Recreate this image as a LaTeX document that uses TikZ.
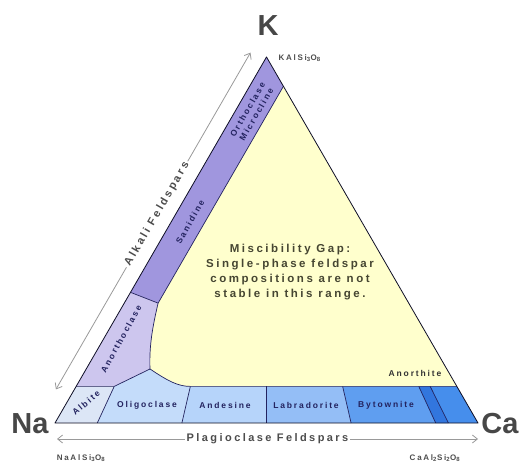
\documentclass[tikz,border=0pt]{standalone}
\usepackage{fontspec}
\setmainfont{Liberation Sans}
\newfontfamily\spaced{Liberation Sans}[LetterSpace=22]
\usetikzlibrary{arrows.meta,calc}
\definecolor{ink}{RGB}{35,35,95}
\definecolor{gapcol}{RGB}{255,255,205}
\definecolor{san}{RGB}{160,150,222}
\definecolor{ano}{RGB}{205,198,238}
\definecolor{alb}{RGB}{220,230,246}
\definecolor{oli}{RGB}{196,220,250}
\definecolor{ande}{RGB}{182,212,250}
\definecolor{lab}{RGB}{148,190,246}
\definecolor{byt}{RGB}{95,158,240}
\definecolor{anstrip}{RGB}{50,118,222}
\definecolor{anor}{RGB}{70,142,236}
\definecolor{notecol}{RGB}{70,70,50}
\newcommand{\naf}{NaAlSi\textsubscript{3}O\textsubscript{8}}
\newcommand{\kf}{KAlSi\textsubscript{3}O\textsubscript{8}}
\newcommand{\caf}{CaAl\textsubscript{2}Si\textsubscript{2}O\textsubscript{8}}
\tikzset{
  edge/.style={draw=ink, line width=0.7pt},
  rim/.style={draw=black!60!ink, line width=0.8pt, line join=round},
  zone/.style={font=\spaced\bfseries\fontsize{8.5}{10}\selectfont, text=ink, inner sep=1pt},
  note/.style={font=\spaced\bfseries\fontsize{11.5}{15}\selectfont, text=notecol, align=center},
  axis/.style={font=\spaced\bfseries\fontsize{11}{13}\selectfont, text=black!70, fill=white, inner sep=2pt},
  corner/.style={font=\bfseries\fontsize{29}{30}\selectfont, text=black!72},
  formula/.style={font=\spaced\bfseries\fontsize{8}{9}\selectfont, text=black!70},
  arr/.style={draw=black!40, line width=0.8pt, {Straight Barb[length=5pt,width=8pt]}-{Straight Barb[length=5pt,width=8pt]}}
}
\begin{document}
\begin{tikzpicture}[x=1pt,y=-1pt]
\useasboundingbox (0,0) rectangle (523,468);
\coordinate (Na) at (55,423);
\coordinate (Ca) at (478,423);
\coordinate (K) at (266.5,57);
\foreach \a/\n in {0/0,0.1/10,0.3/30,0.5/50,0.7/70,0.9/90,0.93/93,1/100}{
  \coordinate (b\n) at ($(Na)!\a!(Ca)$);
  \coordinate (t\n) at ($(K)!0.9!(b\n)$);
}
\coordinate (ktop) at ($(K)!0.08!(Ca)$);
\coordinate (kbot) at ($(Na)!0.08!(Ca)$);
\coordinate (sl) at ($(Na)!0.357!(K)$);
\coordinate (sr) at ($(kbot)!0.356!(ktop)$);
\coordinate (J) at (150,369);

\fill[gapcol] (Na) -- (K) -- (Ca) -- cycle;
\fill[san] (K) -- (ktop) -- (sr) -- (sl) -- cycle;
\fill[ano] (sl) -- (sr) .. controls (153,325) and (149,345) .. (J) -- (t10) -- (t0) -- cycle;
\fill[alb] (t0) -- (t10) -- (b10) -- (Na) -- cycle;
\fill[oli] (t10) -- (J) .. controls (168,381) and (178,386.4) .. (t30) -- (b30) -- (b10) -- cycle;
\fill[ande] (t30) -- (t50) -- (b50) -- (b30) -- cycle;
\fill[lab] (t50) -- (t70) -- (b70) -- (b50) -- cycle;
\fill[byt] (t70) -- (t90) -- (b90) -- (b70) -- cycle;
\fill[anor] (t90) -- (t100) -- (Ca) -- (b90) -- cycle;
\fill[anstrip] (t90) -- (t93) -- (b93) -- (b90) -- cycle;

\draw[edge] (ktop) -- (sr) .. controls (153,325) and (149,345) .. (J)
  .. controls (168,381) and (178,386.4) .. (t30) -- (t100);
\draw[edge] (sl) -- (sr);
\draw[edge] (t0) -- (t10) -- (J);
\foreach \n in {10,30,50,70,90,93} \draw[edge] (t\n) -- (b\n);
\draw[rim] (Na) -- (K) -- (Ca) -- cycle;

\node[zone, rotate=40] (albl) at (86,403) {Albite};
\node[zone] (olil) at (147,405) {Oligoclase};
\node[zone] (andl) at (225,405) {Andesine};
\node[zone] (labl) at (306,405) {Labradorite};
\node[zone] (bytl) at (386,405) {Bytownite};
\node[zone, text=black!80] (anol) at (415,373) {Anorthite};
\node[zone, rotate=61] (acl) at (121,339) {Anorthoclase};
\node[zone, rotate=60] (sanl) at (190,222) {Sanidine};
\node[zone, rotate=60, align=center] (orl) at (252,112) {Orthoclase\\Microcline};
\node[note] (gap) at (290,272) {Miscibility Gap:\\Single-phase feldspar\\compositions are not\\stable in this range.};

\node[corner] (kl) at (268,26) {K};
\node[corner] (nal) at (30,424) {Na};
\node[corner] (cal) at (500,424) {Ca};
\node[formula, anchor=west] (kfl) at (275,58) {\kf};
\node[formula] (nafl) at (81,458) {\naf};
\node[formula] (cafl) at (435,458) {\caf};

\coordinate (pa) at (57,439);
\coordinate (pb) at (478,439);
\draw[arr] (pa) -- node[axis] (plag) {Plagioclase Feldspars} (pb);
\coordinate (aa) at ($(Na)!0.07!(K)+(-13.9,-8)$);
\coordinate (ab) at ($(Na)!0.99!(K)+(-13.9,-8)$);
\draw[arr] (aa) -- node[axis, sloped, pos=0.52] (alk) {Alkali Feldspars} (ab);
\end{tikzpicture}
\end{document}
